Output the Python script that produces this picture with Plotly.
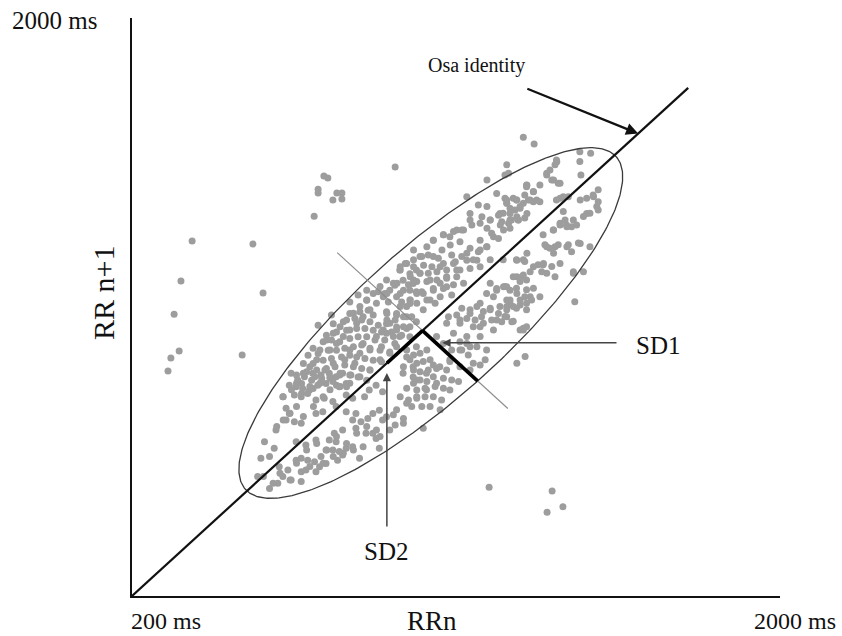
import numpy as np
import plotly.graph_objects as go

# ---------------- data (ms) ----------------
# main cloud of successive RR intervals (RRn, RRn+1)
cloud_lower_x = [642,660,679,702,725,748,767,785,808,637,656,674,693,716,739,758,776,795,651,670,688,711,734,619,758,795,813,846,859,878,896,628,637,651,670,628,600,711,730,767,795,822,813,836,855,869,887,896,822,850,869,785,762,748,767,711,683,656,568,595,558,582,609,656,670,688,707,721,711,725,739,758,776,795,813,832,785,739,771,633,619,642,670,683,670,605,549,582,887,878]
cloud_lower_y = [877,857,867,877,872,877,867,877,872,841,836,831,826,841,846,852,836,846,811,806,816,796,801,806,791,811,801,806,826,841,821,771,755,730,725,735,705,755,760,776,760,755,735,730,740,755,765,735,710,695,695,705,695,674,669,674,659,669,669,649,619,624,593,613,619,613,608,593,578,624,644,644,639,649,654,619,629,603,613,583,563,553,578,583,548,543,563,527,649,679]

cloud_left_x = [944,972,990,953,981,930,990,902,884,949,912,972,852,828,805,852,754,805,833,856,870,907,935,963,717,759,787,819,838,861,884,907,935,963,990,740,768,796,824,847,870,893,921,949,972,703,731,754,777,805,828,852,875,902,930,689,717,745,768,791,815,838,861,889,916,676,703,731,754,782,805,824,847,870,893,657,685,713,740,764,791,815,838,861,671,699,727,750,777,805,828,852,703,768,796,963,981,990,953,981]
cloud_left_y = [1191,1180,1191,1160,1150,1145,1125,1120,1125,1094,1094,1089,1130,1115,1094,1099,1054,1059,1064,1069,1054,1064,1054,1049,1023,1028,1034,1044,1039,1034,1023,1028,1018,1013,1034,993,1003,1008,1013,1013,1008,1003,1003,993,988,953,973,978,973,983,988,988,978,978,968,932,937,947,947,953,958,963,953,947,942,907,907,917,922,927,932,927,922,917,912,872,882,887,892,897,902,897,892,887,846,856,861,866,872,872,866,856,831,841,836,927,897,958,877,866]

cloud_band_x = [620,643,657,671,694,708,722,736,750,759,778,791,805,819,833,842,861,879,893,907,916,935,954,972,750,768,787,805,824,842,861,879,898,916,713,694,676,657,639,620,602,676,704,731,750,778,805,833,861,889,916,935,944,722,741,759,778,796,815,833,852,870,889,907,935,954,972,991]
cloud_band_y = [806,827,847,816,837,867,847,887,862,908,877,918,948,908,938,968,948,989,958,999,1029,1009,1049,1019,948,968,989,1009,1029,1049,1070,1090,1110,1130,918,897,877,776,756,735,715,746,776,806,827,837,847,867,887,918,938,958,989,948,978,999,1019,1039,1060,1080,1100,1120,1141,1161,1110,1130,1100,1120]

cloud_below_x = [685,713,741,768,796,824,852,879,907,935,963,991,1018,1046,991,1018,1055,1083,1111,1139,657,694,731,759,787,815,842,611,639,592,565,954,916,889]
cloud_below_y = [644,664,644,685,664,695,715,705,745,766,786,806,827,847,857,877,897,918,948,958,604,594,604,624,634,644,654,573,553,543,563,725,705,685]

cloud_mid_x = [908,931,898,926,954,977,1009,1042,945,1116,1139,1158,1176,1195,1218,1241,1259,1278,1296,1079,1102,1130,1153,1171,1199,1227,1255,1074,1111,1167,1204,1278,1296,1046,1093,1130,1167,1116,1134,1148,1167,1181,1130,1158,1269,1292,963,982,1000,1019,972,991,1009,1028,1037,954,982,1000,1023,1046,1074,1065,1088,1107,1037,1019,1000,982,963,991,1014,1042,1065,1083,945,968,991,1014,1037,1060,977,1005,1028,1056,926,954,931,1009,1111,1088,1065,1139,1111,1083,1185]
cloud_mid_y = [1059,1039,1009,989,1019,1049,1070,1090,1080,1075,1070,1080,1065,1075,1059,1070,1080,1085,1070,1049,1054,1044,1039,1049,1039,1034,1034,1029,1029,1019,1009,1009,1019,989,999,989,989,948,933,908,902,918,968,958,908,928,948,933,938,948,918,908,913,918,902,897,887,882,887,892,887,862,857,852,867,852,857,847,832,826,832,837,832,826,806,796,801,806,806,796,776,776,776,766,751,740,720,710,973,948,968,887,897,913,948]

cloud_upper_x = [1186,1246,1213,1236,1130,1162,1186,1139,1172,1195,1218,1241,1269,1287,1297,1250,1273,1246,1297,1223,1186,1199,1218,1167,1144,1116,1093,1065,1037,1061,1084,1111,1139,1162,1186,1116,1088,1051,1023,982,1005,959,945,982,1010,1033,1065,1098,1130,1158,973,1000,1023,1047,1074,1102,1139,936,968,991,1019,1047,1074,1102,1005,1037,1065,1093,1121,973,1028,1056,1088,1195,1213,1232,1250,1269,1204,1241,1283,1306,1269,1297]
cloud_upper_y = [1465,1485,1424,1409,1414,1389,1384,1363,1353,1343,1358,1394,1404,1394,1449,1363,1343,1333,1363,1328,1318,1303,1287,1282,1328,1313,1308,1298,1282,1252,1267,1277,1257,1247,1262,1232,1237,1227,1237,1252,1232,1211,1191,1201,1206,1201,1211,1216,1221,1221,1171,1181,1181,1186,1191,1191,1196,1151,1146,1156,1156,1161,1166,1171,1125,1135,1135,1146,1151,1100,1100,1110,1115,1151,1135,1140,1130,1120,1110,1100,1171,1186,1221,1242]

cloud_upper2_x = [1380,1352,1371,1389,1296,1315,1324,1306,1259,1241,1278,1222,1195,1167,1139,1121,1102,1083,1065,1037,1019,1000,982,963,945,1037,1056,1074,1093,1111,1130,1148,1167,1185,1204,1232,1250,1269,1167,1195,1000,1028,1056,982,926,908,945,972,1009,1037,1074,908,935,963,991,1019]
cloud_upper2_y = [1520,1485,1465,1455,1444,1429,1404,1404,1409,1394,1384,1363,1343,1333,1343,1313,1313,1292,1298,1282,1262,1232,1222,1211,1201,1232,1201,1171,1211,1191,1242,1222,1252,1262,1292,1313,1343,1353,1201,1222,1181,1161,1151,1161,1151,1120,1120,1130,1120,1130,1140,1039,1059,1080,1090,1100]

cloud_right_x = [1445,1482,1463,1491,1426,1408,1389,1371,1352,1371,1408,1445,1389,1343,1315,1287,1269,1296,1241,1213,1185,1167,1195,1222,1250,1278,1306,1139,1111,1148,1176,1213,1241,1287,1352,1426]
cloud_right_y = [1404,1414,1363,1384,1343,1323,1333,1313,1262,1242,1262,1272,1211,1211,1201,1222,1171,1161,1140,1130,1120,1090,1070,1080,1090,1100,1110,1059,1039,1019,1029,1039,1049,1009,1181,1181]

cloud_top_x = [1287,1317,1444,1474,1444,1447,1379,1375,1361,1352,1366,1384,1241,1236,1333,1296,1315,1291,1268,1241,1301,1315,1333,1250,1278,1231,1254,1273,1291,1264,1250,1227,1495,1481,1463,1495,1398,1472,1454,1495,1389,1407,1421,1435,1403,1370,1342,1347,1361,1375,1384,1412,1421,1440,1472,1231,1268,1291,1328,1342,1366,1338,1426,1454,1259,1287,1278,1236,1268,1296,1315,1250,1291,1310,1333,1241,1268,1296,1236,1259,1430,1287,1375,1398,1389,1379,1412]
cloud_top_y = [1595,1574,1551,1546,1521,1480,1526,1511,1495,1480,1465,1455,1511,1480,1450,1450,1430,1419,1404,1404,1404,1399,1399,1379,1379,1364,1343,1343,1349,1374,1318,1338,1435,1419,1409,1399,1369,1364,1354,1374,1328,1328,1323,1328,1343,1313,1298,1268,1257,1262,1268,1268,1247,1273,1262,1222,1222,1217,1207,1207,1202,1186,1186,1186,1171,1176,1156,1141,1136,1131,1136,1100,1110,1100,1110,1080,1075,1090,1050,1035,1095,1014,1171,1414,1409,1404,1414]

# isolated beats (ectopics / outliers)
outlier_x = [733,744,717,717,769,783,758,783,706,931,367,536,336,564,317,331,308,300,506,1192,1367,1397,1353]
outlier_y = [1477,1471,1437,1425,1425,1425,1404,1407,1355,1504,1279,1270,1158,1121,1057,945,924,884,933,531,519,471,455]

# Poincaré descriptors (ms)
axis_min, axis_max = 200, 2000
identity_end = 1745
ellipse_center = 1030
sd1 = 217           # semi-minor (perpendicular to identity)
sd2 = 722           # semi-major (along identity)
cross_point = 1007
sd2_marker_end = 908
perp_half = 237     # half extent of thin perpendicular, per axis component

# -------------- figure --------------
rr_x = (cloud_lower_x + cloud_left_x + cloud_band_x + cloud_below_x + cloud_mid_x +
        cloud_upper_x + cloud_upper2_x + cloud_right_x + cloud_top_x + outlier_x)
rr_y = (cloud_lower_y + cloud_left_y + cloud_band_y + cloud_below_y + cloud_mid_y +
        cloud_upper_y + cloud_upper2_y + cloud_right_y + cloud_top_y + outlier_y)

fig = go.Figure()

fig.add_trace(go.Scatter(x=rr_x, y=rr_y, mode="markers",
                         marker=dict(size=7, color="#9d9d9d", line=dict(width=0)),
                         hoverinfo="skip", showlegend=False))

# ellipse
t = np.linspace(0, 2 * np.pi, 361)
u = sd2 * np.cos(t)
v = sd1 * np.sin(t)
ex = ellipse_center + (u - v) / np.sqrt(2)
ey = ellipse_center + (u + v) / np.sqrt(2)
fig.add_trace(go.Scatter(x=ex, y=ey, mode="lines", line=dict(color="#3a3a3a", width=1.3),
                         hoverinfo="skip", showlegend=False))

# thin perpendicular line through the cross point
fig.add_trace(go.Scatter(x=[cross_point - perp_half, cross_point + perp_half],
                         y=[cross_point + perp_half, cross_point - perp_half],
                         mode="lines", line=dict(color="#8c8c8c", width=1.1),
                         hoverinfo="skip", showlegend=False))

# identity line
fig.add_trace(go.Scatter(x=[axis_min, identity_end], y=[axis_min, identity_end], mode="lines",
                         line=dict(color="#111111", width=2.2), hoverinfo="skip", showlegend=False))

# SD1 thick segment
off1 = sd1 / np.sqrt(2)
fig.add_trace(go.Scatter(x=[cross_point, cross_point + off1], y=[cross_point, cross_point - off1],
                         mode="lines", line=dict(color="#000000", width=3.6),
                         hoverinfo="skip", showlegend=False))
# SD2 thick segment
fig.add_trace(go.Scatter(x=[cross_point, sd2_marker_end], y=[cross_point, sd2_marker_end],
                         mode="lines", line=dict(color="#000000", width=3.6),
                         hoverinfo="skip", showlegend=False))

font_family = "Liberation Serif, Times New Roman, serif"
txt = "#111111"


def label(x, y, text, size, ref="data", angle=0, xanchor="center"):
    r = ("x", "y") if ref == "data" else ("paper", "paper")
    return dict(x=x, y=y, xref=r[0], yref=r[1], text=text, showarrow=False,
                xanchor=xanchor, yanchor="middle", textangle=angle,
                font=dict(family=font_family, size=size, color=txt))


annotations = [
    # arrows
    dict(x=1606, y=1606, ax=1294, ay=1744, xref="x", yref="y", axref="x", ayref="y",
         text="", showarrow=True, arrowhead=2, arrowsize=1.1, arrowwidth=2.2, arrowcolor="#111111",
         standoff=0),
    dict(x=1062, y=970, ax=1550, ay=970, xref="x", yref="y", axref="x", ayref="y",
         text="", showarrow=True, arrowhead=2, arrowsize=1.1, arrowwidth=1.5, arrowcolor="#444444",
         standoff=0),
    dict(x=908, y=878, ax=908, ay=407, xref="x", yref="y", axref="x", ayref="y",
         text="", showarrow=True, arrowhead=2, arrowsize=1.1, arrowwidth=1.5, arrowcolor="#444444",
         standoff=0),
    # labels
    label(1158, 1814, "Osa identity", 20),
    label(1661, 963, "SD1", 25),
    label(906, 334, "SD2", 25),
    label(-0.12, 0.9965, "2000 ms", 25, ref="paper"),
    label(0.052, -0.043, "200 ms", 24, ref="paper"),
    label(0.463, -0.043, "RRn", 27, ref="paper"),
    label(1.0895, -0.043, "2000 ms", 24, ref="paper", xanchor="right"),
    label(-0.045, 0.524, "RR n+1", 30, ref="paper", angle=-90),
]

fig.update_layout(
    width=842, height=636, autosize=False,
    margin=dict(l=132, r=62, t=18, b=40, pad=0),
    paper_bgcolor="white", plot_bgcolor="white",
    xaxis=dict(range=[axis_min, axis_max], showgrid=False, zeroline=False, showticklabels=False,
               ticks="", showline=True, linecolor="#111111", linewidth=2),
    yaxis=dict(range=[axis_min, 1957.4], showgrid=False, zeroline=False, showticklabels=False,
               ticks="", showline=True, linecolor="#111111", linewidth=2),
    annotations=annotations,
    showlegend=False,
)

fig.write_html("out.html")
